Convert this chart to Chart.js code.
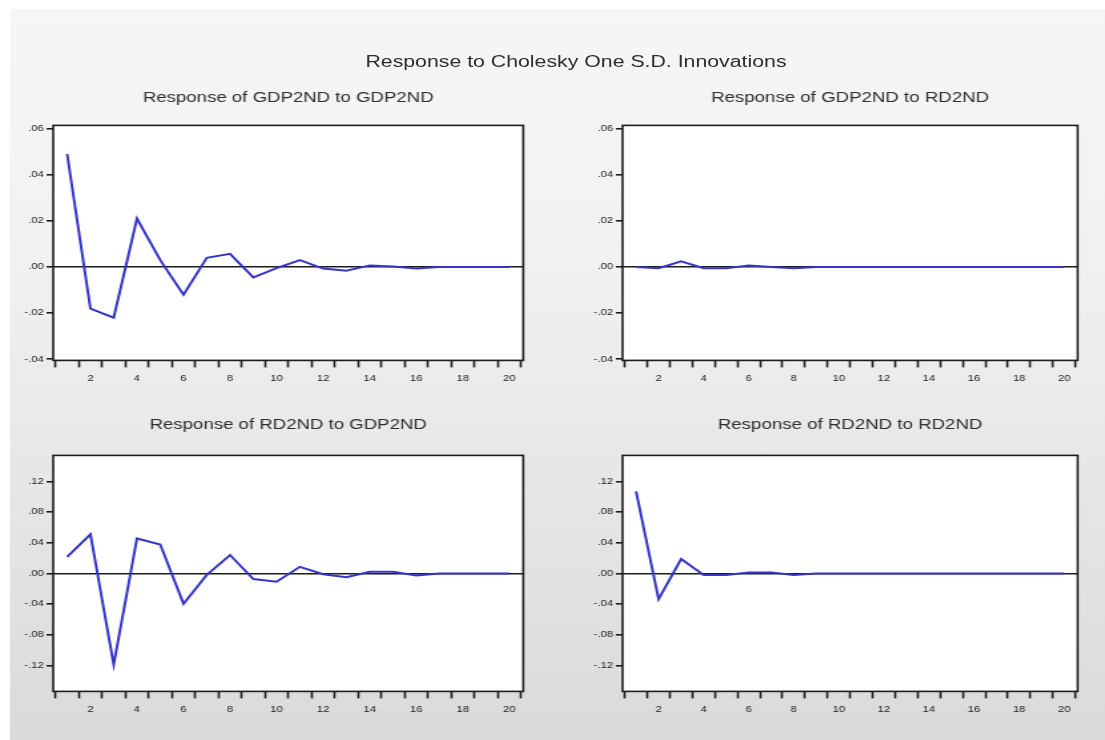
<!DOCTYPE html>
<html>
<head>
<meta charset="utf-8">
<title>Response to Cholesky One S.D. Innovations</title>
<script src="https://cdn.jsdelivr.net/npm/chart.js@4.4.0/dist/chart.umd.min.js"></script>
<style>
    html, body { margin: 0; padding: 0; background: #ffffff; }
    body { width: 1105px; height: 740px; position: relative; overflow: hidden; font-family: "Liberation Sans", Arial, sans-serif; }
    #fundo {
        position: absolute; left: 10px; top: 9px; right: 0; bottom: 0;
        background: linear-gradient(to bottom, #f6f6f6 0%, #f1f1f1 35%, #dadada 100%);
    }
    #palco { position: absolute; left: 0; top: 0; height: 740px; transform-origin: 0 0; }
    #titulo {
        position: absolute; width: 600px; text-align: center;
        font-size: 16px; line-height: 20px; color: #2e2e2e;
    }
    .painel { position: absolute; }
</style>
</head>
<body>
<div id="fundo"></div>
<div id="palco">
    <div id="titulo">Response to Cholesky One S.D.  Innovations</div>
    <div class="painel" id="p1"><canvas id="g1"></canvas></div>
    <div class="painel" id="p2"><canvas id="g2"></canvas></div>
    <div class="painel" id="p3"><canvas id="g3"></canvas></div>
    <div class="painel" id="p4"><canvas id="g4"></canvas></div>
</div>
<script>
// dados (impulso-resposta, 20 periodos)
const periodos = [1, 2, 3, 4, 5, 6, 7, 8, 9, 10, 11, 12, 13, 14, 15, 16, 17, 18, 19, 20];
const rotulosX = [2, 4, 6, 8, 10, 12, 14, 16, 18, 20];

const gdpParaGdp = [0.049, -0.018, -0.022, 0.021, 0.003, -0.012, 0.004, 0.0057, -0.0045, -0.0005,
                    0.003, -0.0007, -0.0016, 0.0007, 0.0002, -0.0007, 0, 0, 0, 0];
const gdpParaRd  = [0, -0.0005, 0.0025, -0.0005, -0.0005, 0.0007, 0, -0.0005, 0, 0,
                    0, 0, 0, 0, 0, 0, 0, 0, 0, 0];
const rdParaGdp  = [0.0215, 0.051, -0.119, 0.0456, 0.0378, -0.0396, -0.002, 0.024, -0.0073, -0.0108,
                    0.0086, -0.001, -0.005, 0.002, 0.002, -0.0026, 0, 0, 0, 0];
const rdParaRd   = [0.107, -0.0336, 0.0188, -0.002, -0.002, 0.0013, 0.0013, -0.002, 0, 0,
                    0, 0, 0, 0, 0, 0, 0, 0, 0, 0];

const ticksYCima = [-0.04, -0.02, 0, 0.02, 0.04, 0.06];
const rotulosYCima = ['-.04', '-.02', '.00', '.02', '.04', '.06'];
const ticksYBaixo = [-0.12, -0.08, -0.04, 0, 0.04, 0.08, 0.12];
const rotulosYBaixo = ['-.12', '-.08', '-.04', '.00', '.04', '.08', '.12'];

// a imagem original esta esticada na horizontal
const ESCALA = 1.33;
const LARG_Y = 30, PAD_E = 2, PAD_D = 12, PAD_T = 4, PAD_B = 2, ALT_X = 24;
const TAM_TITULO = 14, LH_TITULO = 1.2;

const palco = document.getElementById('palco');
palco.style.width = (1105 / ESCALA) + 'px';
palco.style.transform = 'scaleX(' + ESCALA + ')';

const titulo = document.getElementById('titulo');
titulo.style.left = (576 / ESCALA - 300) + 'px';
titulo.style.top = '52px';

Chart.defaults.font.family = '"Liberation Sans", Arial, sans-serif';
Chart.defaults.color = '#222';

const moldura = {
    id: 'moldura',
    beforeDraw(chart) {
        const { ctx, chartArea: a } = chart;
        ctx.save();
        ctx.fillStyle = '#ffffff';
        ctx.fillRect(a.left, a.top, a.width, a.height);
        ctx.restore();
    },
    afterDatasetsDraw(chart) {
        const { ctx, chartArea: a } = chart;
        ctx.save();
        ctx.strokeStyle = '#1c1c1c';
        ctx.lineWidth = 1.6;
        ctx.strokeRect(a.left, a.top, a.width, a.height);
        ctx.restore();
    }
};

function criarPainel(idWrap, idCanvas, titulo, valores, area, tituloY, ticksY, rotulosY, yMin, yMax) {
    const wrap = document.getElementById(idWrap);
    const esq = area.l / ESCALA - LARG_Y - PAD_E;
    const larg = (area.r - area.l) / ESCALA + LARG_Y + PAD_E + PAD_D;
    const alturaTitulo = TAM_TITULO * LH_TITULO;
    const topo = tituloY - alturaTitulo / 2 - PAD_T;
    const alt = area.b + ALT_X + PAD_B - topo;
    const folgaTitulo = area.t - (topo + PAD_T + alturaTitulo);
    wrap.style.left = esq + 'px';
    wrap.style.top = topo + 'px';
    wrap.style.width = larg + 'px';
    wrap.style.height = alt + 'px';

    // marcas do eixo x entre os periodos, rotulos nos pares
    const marcasX = periodos.map(p => p - 0.5).concat([periodos[periodos.length - 1] + 0.5]);
    const posX = marcasX.concat(periodos).sort((a, b) => a - b);

    new Chart(document.getElementById(idCanvas), {
        type: 'line',
        data: {
            datasets: [{
                data: periodos.map((p, i) => ({ x: p, y: valores[i] })),
                borderColor: '#3535c8',
                borderWidth: 2,
                pointRadius: 0,
                tension: 0,
                fill: false
            }]
        },
        options: {
            responsive: true,
            maintainAspectRatio: false,
            animation: false,
            layout: { padding: { left: PAD_E, right: PAD_D, top: PAD_T, bottom: PAD_B } },
            plugins: {
                legend: { display: false },
                tooltip: { enabled: false },
                title: {
                    display: true,
                    text: titulo,
                    fullSize: false,
                    color: '#2e2e2e',
                    font: { size: TAM_TITULO, weight: 'normal', lineHeight: LH_TITULO },
                    padding: { top: 0, bottom: folgaTitulo }
                }
            },
            scales: {
                x: {
                    type: 'linear',
                    min: 0.4,
                    max: 20.6,
                    afterBuildTicks: eixo => { eixo.ticks = posX.map(v => ({ value: v })); },
                    afterFit: eixo => { eixo.height = ALT_X; },
                    border: { display: false },
                    grid: {
                        drawOnChartArea: false,
                        tickLength: 7,
                        tickWidth: 1.6,
                        tickColor: ctx => (ctx.tick && ctx.tick.value % 1 !== 0) ? '#1c1c1c' : 'rgba(0,0,0,0)'
                    },
                    ticks: {
                        autoSkip: false,
                        maxRotation: 0,
                        padding: 6,
                        font: { size: 8.5 },
                        callback: v => rotulosX.includes(v) ? String(v) : ''
                    }
                },
                y: {
                    min: yMin,
                    max: yMax,
                    afterBuildTicks: eixo => { eixo.ticks = ticksY.map(v => ({ value: v })); },
                    afterFit: eixo => { eixo.width = LARG_Y; },
                    border: { display: false },
                    grid: {
                        drawOnChartArea: true,
                        lineWidth: 1.6,
                        color: ctx => (ctx.tick && ctx.tick.value === 0) ? '#1c1c1c' : 'rgba(0,0,0,0)',
                        tickLength: 5,
                        tickWidth: 1.6,
                        tickColor: '#1c1c1c'
                    },
                    ticks: {
                        padding: 2,
                        font: { size: 8.5 },
                        callback: (v, i) => rotulosY[ticksY.indexOf(v)] || ''
                    }
                }
            }
        },
        plugins: [moldura]
    });
}

criarPainel('p1', 'g1', 'Response of GDP2ND to GDP2ND', gdpParaGdp,
    { l: 53, t: 125, r: 523, b: 360 }, 98, ticksYCima, rotulosYCima, -0.0405, 0.0614);
criarPainel('p2', 'g2', 'Response of GDP2ND to RD2ND', gdpParaRd,
    { l: 623, t: 125, r: 1077, b: 360 }, 98, ticksYCima, rotulosYCima, -0.0405, 0.0614);
criarPainel('p3', 'g3', 'Response of RD2ND to GDP2ND', rdParaGdp,
    { l: 53, t: 455, r: 523, b: 691 }, 425, ticksYBaixo, rotulosYBaixo, -0.154, 0.154);
criarPainel('p4', 'g4', 'Response of RD2ND to RD2ND', rdParaRd,
    { l: 623, t: 455, r: 1077, b: 691 }, 425, ticksYBaixo, rotulosYBaixo, -0.154, 0.154);
</script>
</body>
</html>
